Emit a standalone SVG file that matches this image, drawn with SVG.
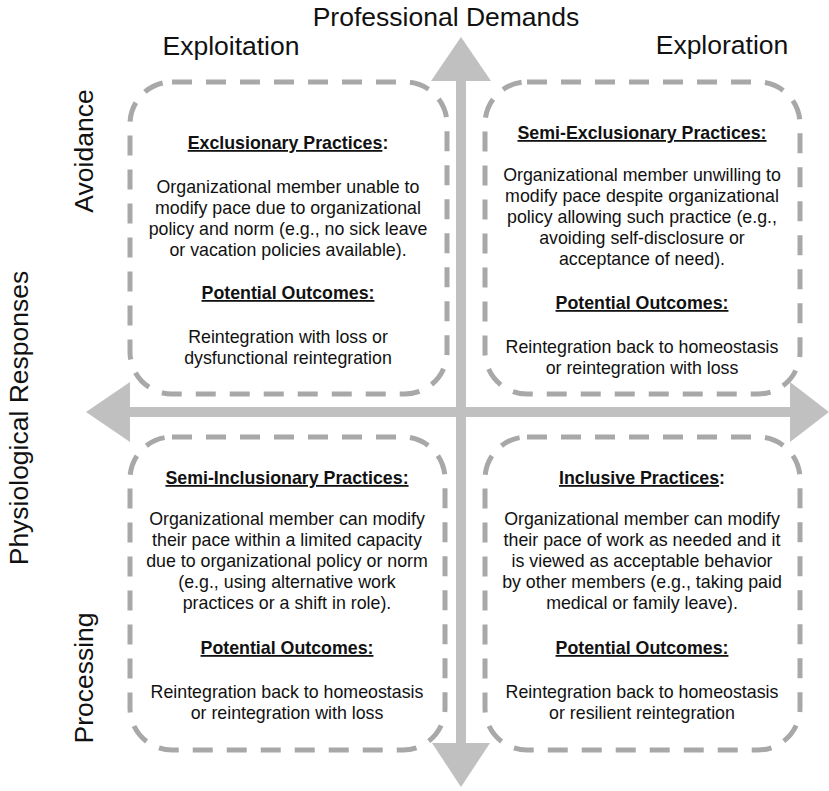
<svg xmlns="http://www.w3.org/2000/svg" width="829" height="791" viewBox="0 0 829 791">
  <style>
    text { font-family: "Liberation Sans", Arial, sans-serif; fill: #111; }
    .axis { font-size: 26.5px; }
    .head { font-size: 17.8px; font-weight: bold; text-anchor: middle; }
    .body { font-size: 17.8px; text-anchor: middle; }
    .u { text-decoration: underline; }
    .box { fill: none; stroke: #a8a8a8; stroke-width: 5; stroke-dasharray: 20 14; }
    .arrow { fill: #c0c0c0; }
  </style>

  <rect width="829" height="791" fill="#ffffff"/>

  <!-- axis labels -->
  <g id="axis-labels">
    <text class="axis" x="446" y="26" text-anchor="middle">Professional Demands</text>
    <text class="axis" x="231" y="55" text-anchor="middle">Exploitation</text>
    <text class="axis" x="722" y="54" text-anchor="middle">Exploration</text>
    <text class="axis" transform="translate(28,418) rotate(-90)" text-anchor="middle" font-size="27.5">Physiological Responses</text>
    <text class="axis" transform="translate(93,151) rotate(-90)" text-anchor="middle">Avoidance</text>
    <text class="axis" transform="translate(93,678) rotate(-90)" text-anchor="middle">Processing</text>
  </g>

  <!-- connectors: the two crossing double-headed axes -->
  <g id="connectors">
    <rect class="arrow" x="456" y="78" width="10" height="667"/>
    <rect class="arrow" x="128" y="407" width="664" height="10"/>
    <polygon class="arrow" points="461,37 491,81 431,81"/>
    <polygon class="arrow" points="461,787 490,743 432,743"/>
    <polygon class="arrow" points="86,412 130,382 130,442"/>
    <polygon class="arrow" points="829,412 790,382 790,442"/>
  </g>

  <!-- quadrant: exploitation / avoidance -->
  <g id="exclusionary">
    <rect class="box" x="130" y="82" width="317" height="312" rx="42"/>
    <text class="head" x="288" y="149"><tspan class="u">Exclusionary Practices</tspan>:</text>
    <text class="body" x="288" y="193">Organizational member unable to</text>
    <text class="body" x="288" y="214">modify pace due to organizational</text>
    <text class="body" x="288" y="235">policy and norm (e.g., no sick leave</text>
    <text class="body" x="288" y="256">or vacation policies available).</text>
    <text class="head u" x="288" y="299">Potential Outcomes:</text>
    <text class="body" x="288" y="343">Reintegration with loss or</text>
    <text class="body" x="288" y="364">dysfunctional reintegration</text>
  </g>

  <!-- quadrant: exploration / avoidance -->
  <g id="semi-exclusionary">
    <rect class="box" x="485" y="82" width="315" height="312" rx="42"/>
    <text class="head u" x="642" y="139">Semi-Exclusionary Practices:</text>
    <text class="body" x="642" y="181">Organizational member unwilling to</text>
    <text class="body" x="642" y="202">modify pace despite organizational</text>
    <text class="body" x="642" y="223">policy allowing such practice (e.g.,</text>
    <text class="body" x="642" y="244">avoiding self-disclosure or</text>
    <text class="body" x="642" y="265">acceptance of need).</text>
    <text class="head u" x="642" y="309">Potential Outcomes:</text>
    <text class="body" x="642" y="353">Reintegration back to homeostasis</text>
    <text class="body" x="642" y="374">or reintegration with loss</text>
  </g>

  <!-- quadrant: exploitation / processing -->
  <g id="semi-inclusionary">
    <rect class="box" x="130" y="437" width="315" height="313" rx="42"/>
    <text class="head u" x="287" y="484">Semi-Inclusionary Practices:</text>
    <text class="body" x="287" y="525">Organizational member can modify</text>
    <text class="body" x="287" y="546">their pace within a limited capacity</text>
    <text class="body" x="287" y="567">due to organizational policy or norm</text>
    <text class="body" x="287" y="588">(e.g., using alternative work</text>
    <text class="body" x="287" y="609">practices or a shift in role).</text>
    <text class="head u" x="287" y="654">Potential Outcomes:</text>
    <text class="body" x="287" y="698">Reintegration back to homeostasis</text>
    <text class="body" x="287" y="719">or reintegration with loss</text>
  </g>

  <!-- quadrant: exploration / processing -->
  <g id="inclusive">
    <rect class="box" x="485" y="437" width="315" height="313" rx="42"/>
    <text class="head" x="642" y="484"><tspan class="u">Inclusive Practices</tspan>:</text>
    <text class="body" x="642" y="525">Organizational member can modify</text>
    <text class="body" x="642" y="546">their pace of work as needed and it</text>
    <text class="body" x="642" y="567">is viewed as acceptable behavior</text>
    <text class="body" x="642" y="588">by other members (e.g., taking paid</text>
    <text class="body" x="642" y="609">medical or family leave).</text>
    <text class="head u" x="642" y="654">Potential Outcomes:</text>
    <text class="body" x="642" y="698">Reintegration back to homeostasis</text>
    <text class="body" x="642" y="719">or resilient reintegration</text>
  </g>
</svg>
